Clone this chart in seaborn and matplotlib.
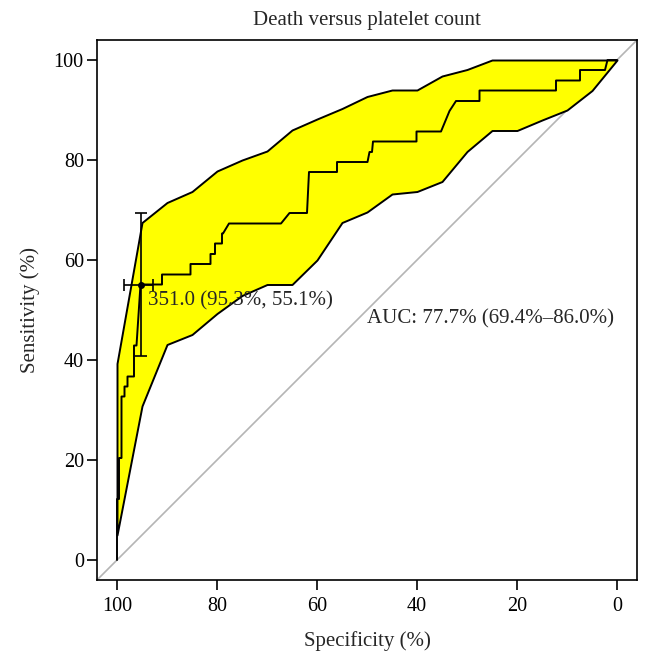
import numpy as np
import pandas as pd
import matplotlib
matplotlib.use("Agg")
import matplotlib.pyplot as plt
import seaborn as sns

# ROC step curve (specificity %, sensitivity %)
roc_spec = [100, 100, 99.6, 99.6, 99.1, 99.1, 98.5, 98.5, 97.9, 97.9, 96.6, 96.6,
            96.1, 95.3, 91.0, 91.0, 85.3, 85.3, 81.3, 81.3, 80.4, 80.4, 79.0, 79.0,
            78.8, 77.6, 67.2, 65.5, 62.0, 61.6, 56.0, 56.0, 49.9, 49.5, 49.0, 48.8,
            40.1, 40.1, 35.2, 33.5, 32.2, 27.5, 27.5, 12.2, 12.2, 7.4, 7.4, 2.4, 1.9, 0]
roc_sens = [0, 12.2, 12.2, 20.4, 20.4, 32.7, 32.7, 34.7, 34.7, 36.7, 36.7, 42.9,
            42.9, 55.1, 55.1, 57.1, 57.1, 59.2, 59.2, 61.2, 61.2, 63.3, 63.3, 65.3,
            65.3, 67.3, 67.3, 69.4, 69.4, 77.6, 77.6, 79.6, 79.6, 81.6, 81.6, 83.7,
            83.7, 85.7, 85.7, 89.8, 91.8, 91.8, 93.9, 93.9, 95.9, 95.9, 98.0, 98.0, 100, 100]

# confidence band of sensitivity at fixed specificities
ci_spec = [100, 95, 90, 85, 80, 75, 70, 65, 60, 55, 50, 45, 40, 35, 30, 25, 20, 15, 10, 5, 0]
ci_lower = [5.0, 30.8, 43.1, 45.1, 49.3, 52.9, 55.1, 55.1, 60.0, 67.5, 69.6, 73.2, 73.7,
            75.7, 81.7, 85.9, 85.9, 88.0, 90.0, 93.9, 100]
ci_upper = [39.3, 67.5, 71.5, 73.7, 77.8, 80.0, 81.8, 86.0, 88.2, 90.3, 92.7, 94.0, 94.0,
            96.8, 98.1, 100, 100, 100, 100, 100, 100]

# best threshold and its CI
thr_label = "351.0 (95.3%, 55.1%)"
thr_spec, thr_sens = 95.3, 55.1
thr_spec_ci = (92.0, 97.8)
thr_sens_ci = (40.8, 69.4)
auc_label = "AUC: 77.7% (69.4%\u201386.0%)"

sns.set_style("ticks")
plt.rcParams['font.family'] = ['Liberation Serif', 'DejaVu Serif']
plt.rcParams['font.size'] = 14.5

fig = plt.figure(figsize=(6.53, 6.66), dpi=100)
ax = fig.add_axes([97 / 653, 1 - 580 / 666, 540 / 653, 540 / 666])

# chance diagonal
ax.axline((100, 0), (0, 100), color='#b5b5b5', lw=1.2, zorder=1)

# CI band
ax.fill_between(ci_spec, ci_lower, ci_upper, facecolor='#ffff00', edgecolor='black',
                lw=1.4, zorder=2)

# ROC curve
roc = pd.DataFrame({'spec': roc_spec, 'sens': roc_sens})
sns.lineplot(data=roc, x='spec', y='sens', sort=False, estimator=None,
             color='black', lw=1.4, ax=ax, zorder=3)

# threshold point with error bars
ax.errorbar([thr_spec], [thr_sens],
            xerr=[[thr_spec_ci[1] - thr_spec], [thr_spec - thr_spec_ci[0]]],
            yerr=[[thr_sens - thr_sens_ci[0]], [thr_sens_ci[1] - thr_sens]],
            fmt='o', color='black', ms=4, elinewidth=1.2, capsize=4.5, capthick=1.2, zorder=4)
ax.text(93.9, 51.9, thr_label, ha='left', va='center', fontsize=15, zorder=5)
ax.text(50, 48.2, auc_label, ha='left', va='center', fontsize=15, zorder=5)

ax.set_xlim(104, -4)
ax.set_ylim(-4, 104)
ax.set_xticks([100, 80, 60, 40, 20, 0])
ax.set_yticks([0, 20, 40, 60, 80, 100])
ax.tick_params(length=7, width=1.2, color='black', labelcolor='black', labelsize=14.5)
ax.tick_params(axis='x', pad=5)
ax.tick_params(axis='y', pad=2.5)
for s in ax.spines.values():
    s.set_linewidth(1.2)
    s.set_color('black')

ax.set_xlabel("Specificity (%)", fontsize=15, labelpad=11)
ax.set_ylabel("Sensitivity (%)", fontsize=15, labelpad=10)
ax.set_title("Death versus platelet count", fontsize=15, pad=11)

fig.savefig("out.png", dpi=100)
